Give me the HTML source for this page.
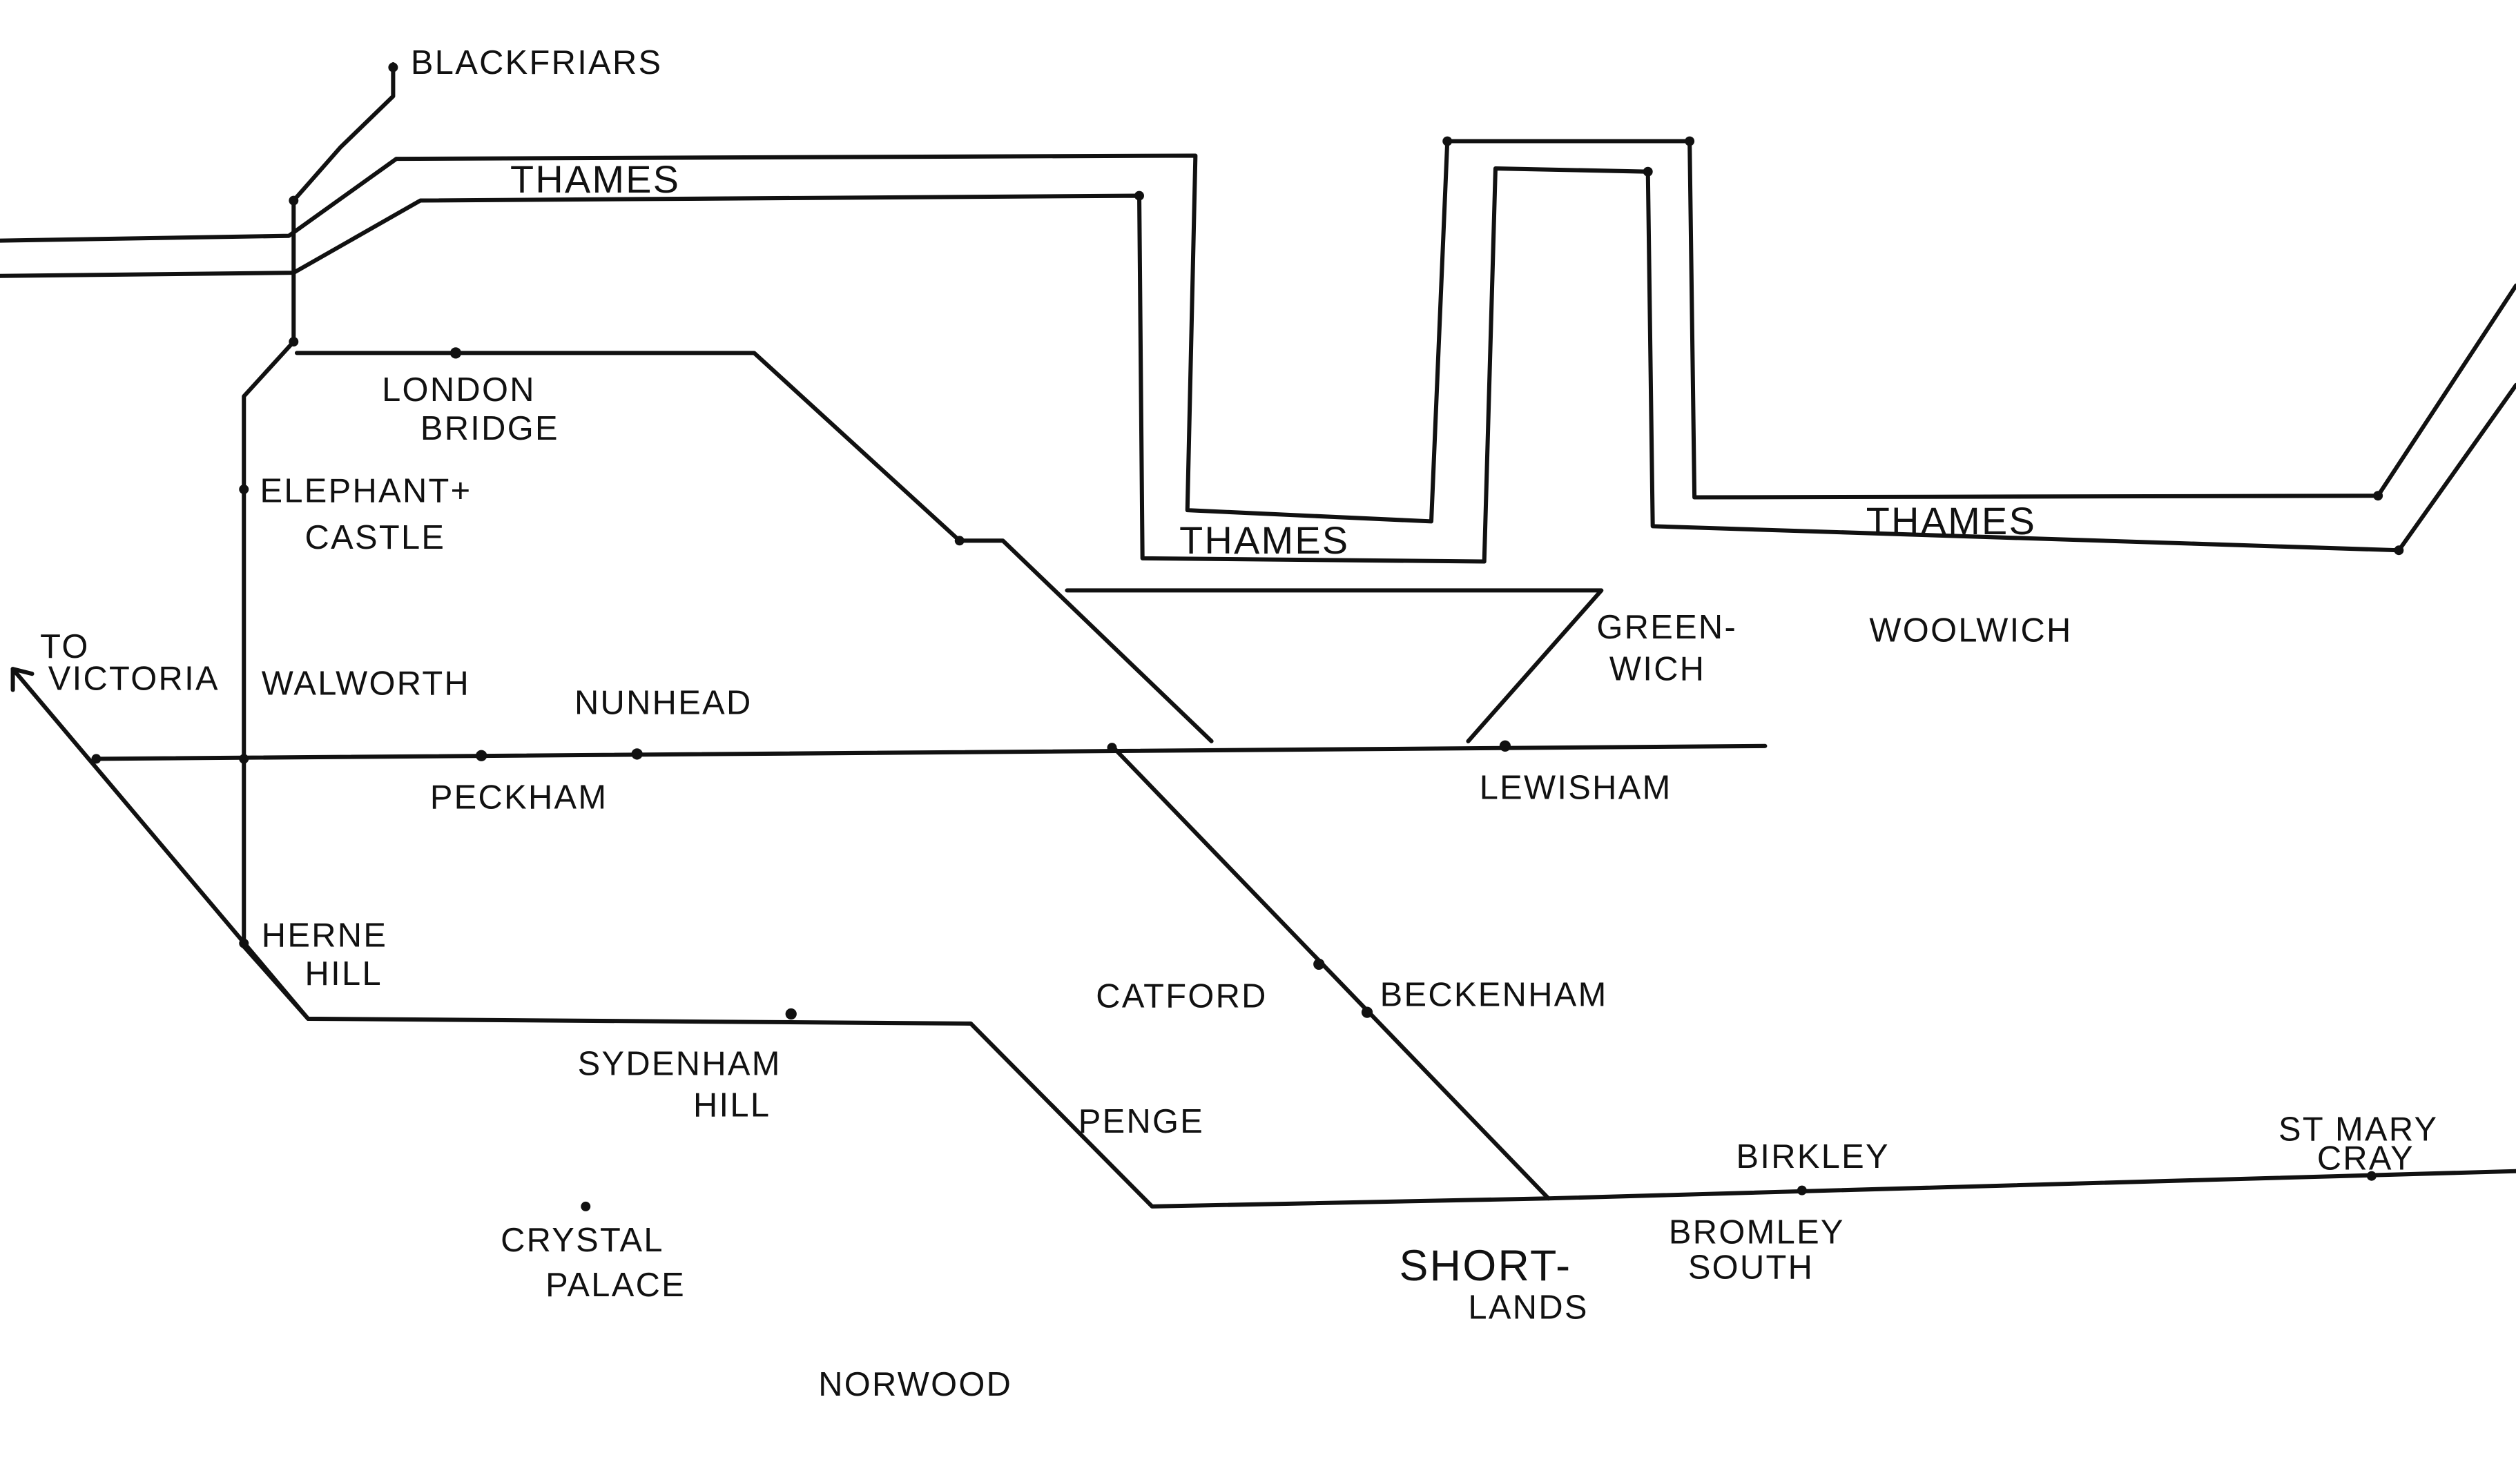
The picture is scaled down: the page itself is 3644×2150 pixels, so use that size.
<!DOCTYPE html>
<html><head><style>
html,body{margin:0;padding:0;background:#fff;}
svg{display:block;}
text{font-family:"Liberation Sans",sans-serif;font-size:21px;fill:#111;letter-spacing:1px;}
</style></head><body>
<svg width="3644" height="2150" viewBox="0 0 1568 925" preserveAspectRatio="none" xmlns="http://www.w3.org/2000/svg">
<g fill="none" stroke="#111" stroke-width="2.6" stroke-linejoin="round" stroke-linecap="round">
<!-- Thames outer bank -->
<polyline points="0,150 180,147 247,99 745,97 740,318 892,325 902,88 1053,88 1056,310 1482,309 1568,178"/>
<!-- Thames inner bank -->
<polyline points="0,172 183,170 262,125 710,122 712,348 925,350 932,105 1027,107 1030,328 1495,343 1568,240"/>
<!-- Blackfriars line -->
<polyline points="245,40 245,60 212,92 183,125 183,213 152,247 152,590"/>
<!-- London Bridge line -->
<polyline points="185,220 470,220 598,337 625,337 755,462"/>
<!-- Lewisham horizontal -->
<line x1="60" y1="473" x2="1100" y2="465"/>
<!-- Greenwich -->
<polyline points="665,368 998,368 915,462"/>
<!-- To Victoria -->
<polyline points="8,417 192,635 605,638 718,752 965,747 1568,730"/>
<line x1="8" y1="417" x2="8" y2="430"/><line x1="8" y1="417" x2="20" y2="420"/>
<!-- Catford/Beckenham -->
<line x1="693" y1="465" x2="965" y2="747"/>
<line x1="152" y1="590" x2="192" y2="635"/>
</g>
<g fill="#111">
<circle cx="245" cy="42" r="3"/><circle cx="183" cy="125" r="3"/><circle cx="183" cy="213" r="3"/>
<circle cx="284" cy="220" r="3.5"/><circle cx="152" cy="305" r="3"/><circle cx="152" cy="473" r="3"/>
<circle cx="60" cy="473" r="3"/><circle cx="300" cy="471" r="3.5"/><circle cx="397" cy="470" r="3.5"/>
<circle cx="693" cy="466" r="3"/><circle cx="938" cy="465" r="3.5"/><circle cx="152" cy="588" r="3"/>
<circle cx="493" cy="632" r="3.5"/><circle cx="822" cy="601" r="3.5"/><circle cx="852" cy="631" r="3.5"/>
<circle cx="365" cy="752" r="3"/><circle cx="1123" cy="742" r="3"/><circle cx="1478" cy="733" r="3"/>
<circle cx="598" cy="337" r="3"/><circle cx="1482" cy="309" r="3"/><circle cx="1495" cy="343" r="3"/>
<circle cx="710" cy="122" r="3"/><circle cx="1027" cy="107" r="3"/><circle cx="1053" cy="88" r="3"/><circle cx="902" cy="88" r="3"/>
</g>
<text x="256" y="46">BLACKFRIARS</text>
<text x="318" y="120" style="font-size:24px">THAMES</text>
<text x="238" y="250">LONDON</text>
<text x="262" y="274">BRIDGE</text>
<text x="162" y="313">ELEPHANT+</text>
<text x="190" y="342">CASTLE</text>
<text x="735" y="345" style="font-size:24px">THAMES</text>
<text x="1163" y="333" style="font-size:24px">THAMES</text>
<text x="995" y="398">GREEN-</text>
<text x="1003" y="424">WICH</text>
<text x="1165" y="400">WOOLWICH</text>
<text x="25" y="410">TO</text>
<text x="30" y="430">VICTORIA</text>
<text x="163" y="433">WALWORTH</text>
<text x="358" y="445">NUNHEAD</text>
<text x="268" y="504">PECKHAM</text>
<text x="922" y="498">LEWISHAM</text>
<text x="163" y="590">HERNE</text>
<text x="190" y="614">HILL</text>
<text x="683" y="628">CATFORD</text>
<text x="860" y="627">BECKENHAM</text>
<text x="360" y="670">SYDENHAM</text>
<text x="432" y="696">HILL</text>
<text x="672" y="706">PENGE</text>
<text x="1082" y="728">BIRKLEY</text>
<text x="1420" y="711">ST MARY</text>
<text x="1444" y="729">CRAY</text>
<text x="312" y="780">CRYSTAL</text>
<text x="340" y="808">PALACE</text>
<text x="872" y="798" style="font-size:27px">SHORT-</text>
<text x="915" y="822">LANDS</text>
<text x="1040" y="775">BROMLEY</text>
<text x="1052" y="797">SOUTH</text>
<text x="510" y="870">NORWOOD</text>
</svg>
</body></html>
